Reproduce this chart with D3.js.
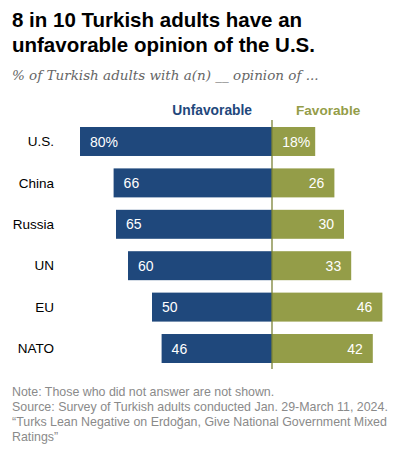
<!DOCTYPE html>
<html>
<head>
<meta charset="utf-8">
<script src="https://cdn.jsdelivr.net/npm/d3@7"></script>
<style>
  html, body { margin: 0; padding: 0; background: #fff; }
  svg { display: block; }
</style>
</head>
<body>
<svg id="chart" width="397" height="456"></svg>
<script>
const categories = ["U.S.", "China", "Russia", "UN", "EU", "NATO"];
const unfavorable = [80, 66, 65, 60, 50, 46];
const favorable = [18, 26, 30, 33, 46, 42];
const seriesNames = ["Unfavorable", "Favorable"];
const titleLines = ["8 in 10 Turkish adults have an", "unfavorable opinion of the U.S."];
const subtitle = "% of Turkish adults with a(n) __ opinion of ...";
const noteLines = [
  "Note: Those who did not answer are not shown.",
  "Source: Survey of Turkish adults conducted Jan. 29-March 11, 2024.",
  "\u201cTurks Lean Negative on Erdo\u011fan, Give National Government Mixed",
  "Ratings\u201d"
];

const svg = d3.select("#chart");
const blue = "#1f487c", olive = "#949d48", lineCol = "#7a8236";
const sans = "'Liberation Sans', Arial, sans-serif";

// Title
svg.append("g").selectAll("text").data(titleLines).join("text")
  .attr("x", 12).attr("y", (d, i) => 27 + i * 25)
  .attr("font-family", sans).attr("font-weight", "bold").attr("font-size", 20.5)
  .attr("fill", "#000").text(d => d);

svg.append("text").attr("x", 12).attr("y", 80)
  .attr("font-family", "'DejaVu Serif', Georgia, serif").attr("font-style", "italic")
  .attr("font-size", 13.5).attr("fill", "#666").text(subtitle);

const center = 272;
const x = d3.scaleLinear().domain([0, 100]).range([0, 240]);
const y = d3.scaleBand().domain(categories).range([127, 363]).paddingInner(0.3).paddingOuter(0);

// Legend
svg.append("text").attr("x", 252).attr("y", 115).attr("text-anchor", "end")
  .attr("font-family", sans).attr("font-weight", "bold").attr("font-size", 13.8)
  .attr("fill", blue).text(seriesNames[0]);
svg.append("text").attr("x", 296).attr("y", 115)
  .attr("font-family", sans).attr("font-weight", "bold").attr("font-size", 13.6)
  .attr("fill", olive).text(seriesNames[1]);

const rows = categories.map((c, i) => ({ c, u: unfavorable[i], f: favorable[i], i }));

// Bars
svg.append("g").selectAll("rect").data(rows).join("rect")
  .attr("x", d => center - x(d.u)).attr("y", d => y(d.c))
  .attr("width", d => x(d.u)).attr("height", y.bandwidth()).attr("fill", blue);
svg.append("g").selectAll("rect").data(rows).join("rect")
  .attr("x", center).attr("y", d => y(d.c))
  .attr("width", d => x(d.f)).attr("height", y.bandwidth()).attr("fill", olive);

// Center line
svg.append("line").attr("x1", center).attr("x2", center).attr("y1", 120).attr("y2", 369)
  .attr("stroke", lineCol).attr("stroke-width", 1.3);

// Category labels
svg.append("g").selectAll("text").data(rows).join("text")
  .attr("x", 54).attr("y", d => y(d.c) + y.bandwidth() / 2).attr("dy", "0.35em")
  .attr("text-anchor", "end").attr("font-family", sans).attr("font-size", 13.5)
  .attr("fill", "#000").text(d => d.c);

// Value labels
const valG = svg.append("g").attr("font-family", sans).attr("font-size", 14).attr("fill", "#fff");
valG.selectAll("text.u").data(rows).join("text").attr("class", "u")
  .attr("x", d => center - x(d.u) + 10).attr("y", d => y(d.c) + y.bandwidth() / 2).attr("dy", "0.36em")
  .text(d => d.u + (d.i === 0 ? "%" : ""));
valG.selectAll("text.f").data(rows).join("text").attr("class", "f")
  .attr("x", d => center + x(d.f) - (d.i === 0 ? 5 : 10)).attr("y", d => y(d.c) + y.bandwidth() / 2).attr("dy", "0.36em")
  .attr("text-anchor", "end")
  .text(d => d.f + (d.i === 0 ? "%" : ""));

// Notes
svg.append("g").selectAll("text").data(noteLines).join("text")
  .attr("x", 12).attr("y", (d, i) => 396 + i * 15)
  .attr("font-family", sans).attr("font-size", 12.4).attr("fill", "#8a8a8a")
  .text(d => d);
</script>
</body>
</html>
